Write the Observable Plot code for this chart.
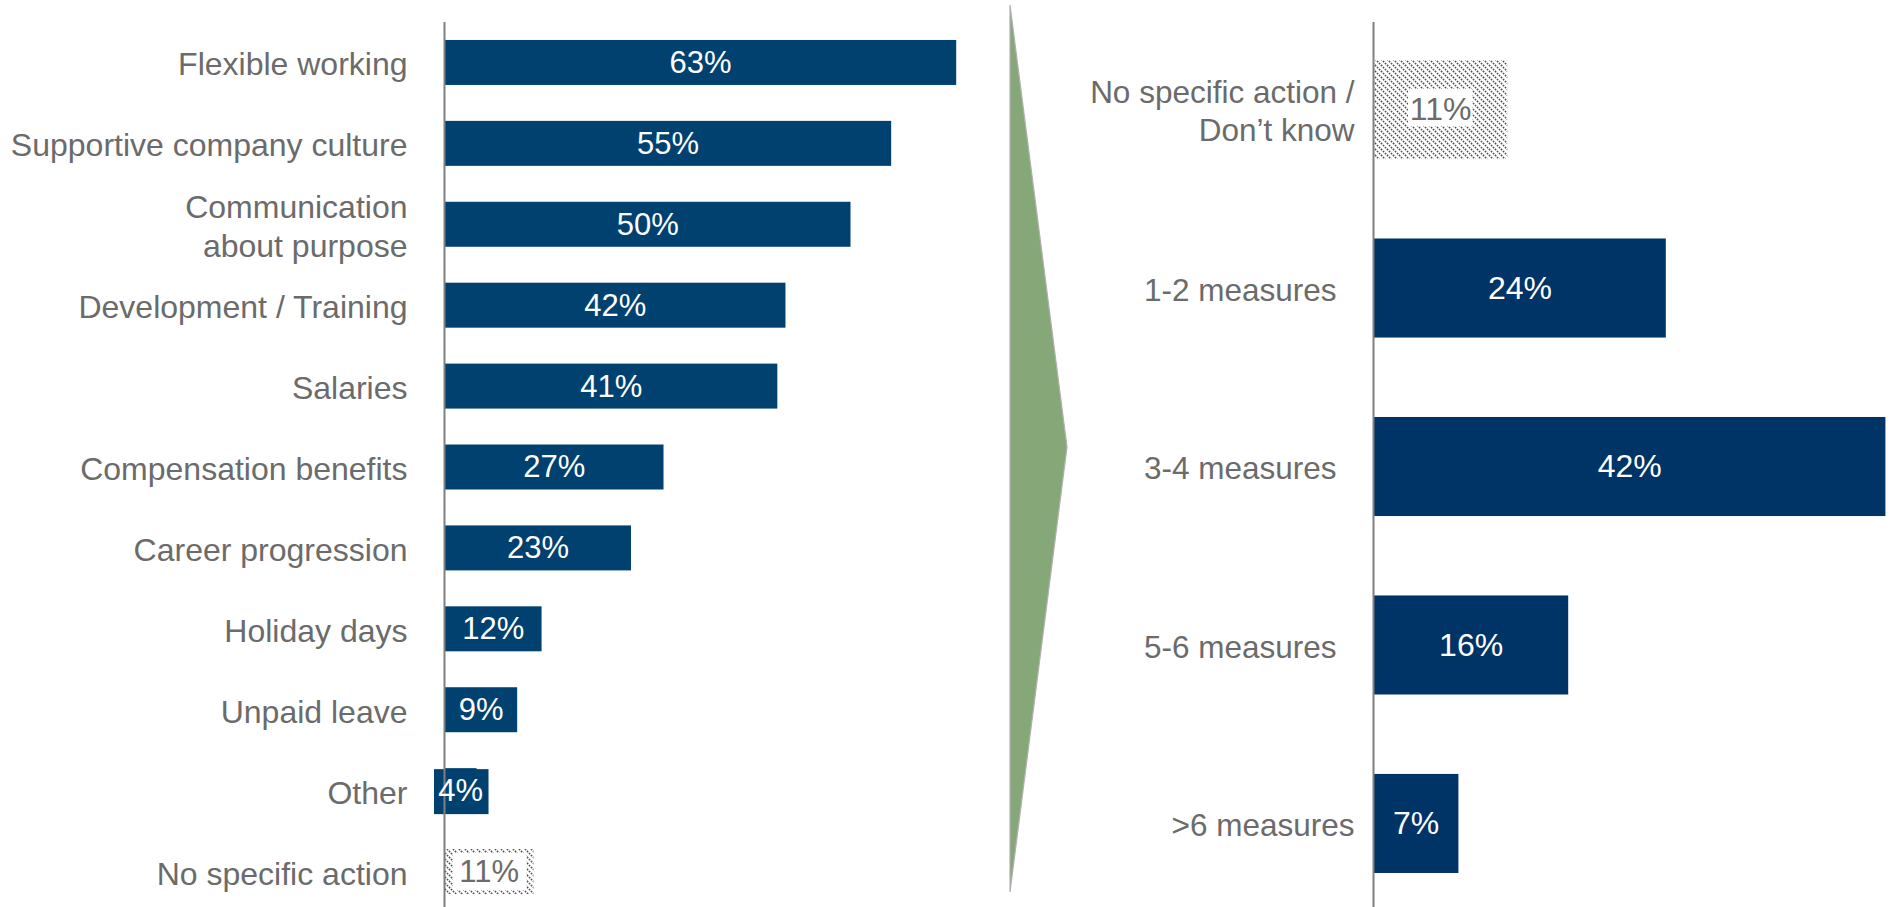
<!DOCTYPE html>
<html>
<head>
<meta charset="utf-8">
<script src="https://cdn.jsdelivr.net/npm/d3@7"></script>
<script src="https://cdn.jsdelivr.net/npm/@observablehq/plot@0.6"></script>
<style>
  html, body { margin: 0; padding: 0; background: #ffffff; }
  #wrap { position: relative; width: 1892px; height: 907px; overflow: hidden; font-family: "Liberation Sans", Arial, sans-serif; }
  #left, #right, #arrow { position: absolute; top: 0; }
  #left { left: 0; }
  #right { left: 980px; }
  #arrow { left: 0; width: 1892px; height: 907px; pointer-events: none; }
  #wrap svg.plot, #wrap figure { margin: 0; max-width: none; }
</style>
</head>
<body>
<svg width="0" height="0" style="position:absolute">
  <defs>
    <pattern id="hatch" patternUnits="userSpaceOnUse" width="6" height="6">
      <path d="M-1,-1 L7,7 M-1,5 L1,7 M5,-1 L7,1" stroke="#505050" stroke-width="1.6" stroke-dasharray="1.6 1.2"/>
    </pattern>
  </defs>
</svg>
<div id="wrap">
  <div id="left"></div>
  <div id="right"></div>
  <svg id="arrow" viewBox="0 0 1892 907">
    <polygon points="1010,5 1067,447 1010,892" fill="#86a878" stroke="#b0b0b0" stroke-width="1.2"/>
  </svg>
</div>
<script>
// ---- Left panel: actions taken ----
const leftLabels = [
  "Flexible working",
  "Supportive company culture",
  "Communication\nabout purpose",
  "Development / Training",
  "Salaries",
  "Compensation benefits",
  "Career progression",
  "Holiday days",
  "Unpaid leave",
  "Other",
  "No specific action"
];
const leftValues = [63, 55, 50, 42, 41, 27, 23, 12, 9, 4, 11];
const leftHatched = ["No specific action"];

// ---- Right panel: number of measures ----
const rightLabels = [
  "No specific action /\nDon\u2019t know",
  "1-2 measures",
  "3-4 measures",
  "5-6 measures",
  ">6 measures"
];
const rightValues = [11, 24, 42, 16, 7];
const rightHatched = ["No specific action /\nDon\u2019t know"];
// labels set slightly closer to the axis in the original
const rightNearLabels = ["No specific action /\nDon\u2019t know", ">6 measures"];

const NAVY = "#00416f";
const NAVY2 = "#003366";
const GREY_TEXT = "#6b6b6b";
const AXIS = "#808080";
const FONT = "Liberation Sans, Arial, sans-serif";

const leftData = leftLabels.map((label, i) => ({label, value: leftValues[i], hatched: leftHatched.includes(label)}));
const rightData = rightLabels.map((label, i) => ({label, value: rightValues[i], hatched: rightHatched.includes(label)}));

function panel({data, width, marginLeft, xMax, yRange, paddingInner, paddingOuter, fontSize, valueSize, axes, lineHeight, fill, insets}) {
  const solid = data.filter(d => !d.hatched);
  const small = solid.filter(d => d.value < 6);
  const hatched = data.filter(d => d.hatched);
  return Plot.plot({
    width,
    height: 907,
    marginLeft,
    marginRight: 0,
    marginTop: 22,
    marginBottom: 0,
    style: {fontFamily: FONT, background: "none", overflow: "visible"},
    x: {domain: [0, xMax], axis: null},
    y: {domain: data.map(d => d.label), range: yRange, paddingInner, paddingOuter, round: false, label: null},
    marks: [
      Plot.barX(solid, {x: "value", y: "label", fill}),
      // label box for bars too short to hold their label
      Plot.barX(small, {x: "value", y: "label", fill, insetLeft: -10, insetRight: -12, insetTop: 1, insetBottom: -1}),
      Plot.barX(hatched, {x: "value", y: "label", fill: "url(#hatch)"}),
      Plot.barX(hatched, {x: "value", y: "label", fill: "white", ...insets}),
      Plot.ruleX([0], {stroke: AXIS, strokeWidth: 2}),
      ...axes.map(a => Plot.axisY(a.ticks, {tickSize: 0, tickPadding: a.pad, fontSize, lineHeight, color: GREY_TEXT, label: null})),
      Plot.text(solid, {
        x: d => d.value / 2, y: "label", text: d => d.value + "%",
        fill: "white", fontSize: valueSize
      }),
      Plot.text(hatched, {
        x: d => d.value / 2, y: "label", text: d => d.value + "%",
        fill: GREY_TEXT, fontSize: valueSize
      })
    ]
  });
}

document.getElementById("left").append(panel({
  data: leftData,
  width: 980,
  marginLeft: 444,
  xMax: 536 / 8.13,
  yRange: [22, 912],
  paddingInner: 0.444,
  paddingOuter: 0.222,
  fontSize: 32,
  valueSize: 31,
  axes: [{ticks: leftLabels, pad: 37}],
  lineHeight: 1.22,
  fill: NAVY,
  insets: {insetLeft: 9, insetRight: 7, insetTop: 4, insetBottom: 4}
}));

document.getElementById("right").append(panel({
  data: rightData,
  width: 912,
  marginLeft: 393,
  xMax: 519 / 12.2,
  yRange: [22, 911],
  paddingInner: 0.445,
  paddingOuter: 0.213,
  fontSize: 31.5,
  valueSize: 32,
  axes: [
    {ticks: rightLabels.filter(l => !rightNearLabels.includes(l)), pad: 37},
    {ticks: rightNearLabels, pad: 19}
  ],
  lineHeight: 1.2,
  fill: NAVY2,
  insets: {insetLeft: 35, insetRight: 35, insetTop: 29, insetBottom: 33}
}));
</script>
</body>
</html>
